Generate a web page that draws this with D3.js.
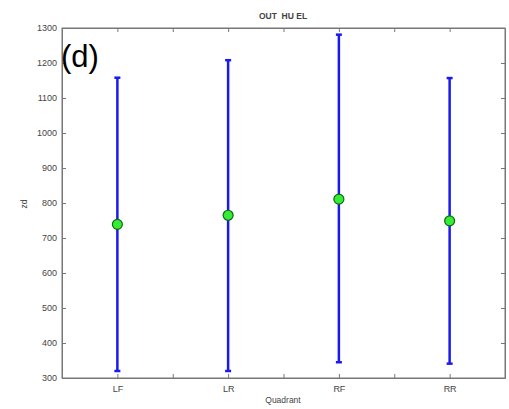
<!DOCTYPE html>
<html><head><meta charset="utf-8">
<script src="https://cdn.jsdelivr.net/npm/d3@7"></script>
<style>body{margin:0;background:#fff}svg{display:block}text{font-family:"Liberation Sans",Arial,sans-serif}</style>
</head><body><svg id="c" width="509" height="409"></svg>
<script>
const categories = ["LF","LR","RF","RR"];
const means = [739, 765, 811, 749];
const upper = [1158, 1208, 1281, 1157];
const lower = [320, 320, 345, 341];
const yTicks = [300,400,500,600,700,800,900,1000,1100,1200,1300];
const xTicks = [1,1.5,2,2.5,3,3.5,4];

const svg = d3.select("#c");
const L=62,T=28,R=505,B=378;
const x = d3.scaleLinear().domain([0.5,4.5]).range([L,R]);
const y = d3.scaleLinear().domain([300,1300]).range([B,T]);
const grey="#777";

svg.append("rect").attr("x",L).attr("y",T).attr("width",R-L).attr("height",B-T)
  .attr("fill","#fff").attr("stroke",grey).attr("stroke-width",1);

const fmtX = d => Number.isInteger(d) ? categories[d-1] : "";
const xa = svg.append("g").attr("transform",`translate(0,${B})`)
  .call(d3.axisBottom(x).tickValues(xTicks).tickFormat(fmtX).tickSizeInner(-4).tickSizeOuter(0).tickPadding(8));
const xt = svg.append("g").attr("transform",`translate(0,${T})`)
  .call(d3.axisTop(x).tickValues(xTicks).tickFormat("").tickSizeInner(-4).tickSizeOuter(0));
const ya = svg.append("g").attr("transform",`translate(${L},0)`)
  .call(d3.axisLeft(y).tickValues(yTicks).tickFormat(d3.format("d")).tickSizeInner(-4).tickSizeOuter(0).tickPadding(5));
const yr = svg.append("g").attr("transform",`translate(${R},0)`)
  .call(d3.axisRight(y).tickValues(yTicks).tickFormat("").tickSizeInner(-4).tickSizeOuter(0));
[xa,xt,ya,yr].forEach(g=>{
  g.select(".domain").attr("stroke",grey);
  g.selectAll(".tick line").attr("stroke",grey);
  g.selectAll(".tick text").attr("fill","#444").attr("font-size",9);
});

const data = categories.map((c,i)=>({i:i+1,m:means[i],u:upper[i],l:lower[i]}));
const blue="#1a1af0";
const g = svg.append("g");
g.selectAll("line.v").data(data).join("line")
  .attr("x1",d=>x(d.i)).attr("x2",d=>x(d.i)).attr("y1",d=>y(d.u)).attr("y2",d=>y(d.l))
  .attr("stroke",blue).attr("stroke-width",2.5);
g.selectAll("line.t").data(data).enter().append("line")
  .attr("x1",d=>x(d.i)-3).attr("x2",d=>x(d.i)+3).attr("y1",d=>y(d.u)).attr("y2",d=>y(d.u))
  .attr("stroke",blue).attr("stroke-width",2.5);
g.selectAll("line.b").data(data).enter().append("line")
  .attr("x1",d=>x(d.i)-3).attr("x2",d=>x(d.i)+3).attr("y1",d=>y(d.l)).attr("y2",d=>y(d.l))
  .attr("stroke",blue).attr("stroke-width",2.5);
g.selectAll("circle").data(data).join("circle")
  .attr("cx",d=>x(d.i)).attr("cy",d=>y(d.m)).attr("r",5)
  .attr("fill","#33ee33").attr("stroke","#116611").attr("stroke-width",1.2);

svg.append("text").attr("x",283).attr("y",19).attr("text-anchor","middle")
  .attr("font-size",8.5).attr("font-weight","bold").attr("fill","#444").text("OUT\u00a0\u00a0HU EL");
svg.append("text").attr("x",283).attr("y",403).attr("text-anchor","middle")
  .attr("font-size",8.5).attr("fill","#444").text("Quadrant");
svg.append("text").attr("transform","translate(27,204) rotate(-90)").attr("text-anchor","middle")
  .attr("font-size",8.5).attr("fill","#444").text("zd");
svg.append("text").attr("x",61).attr("y",67)
  .attr("font-size",31).attr("fill","#000").text("(d)");
</script></body></html>
